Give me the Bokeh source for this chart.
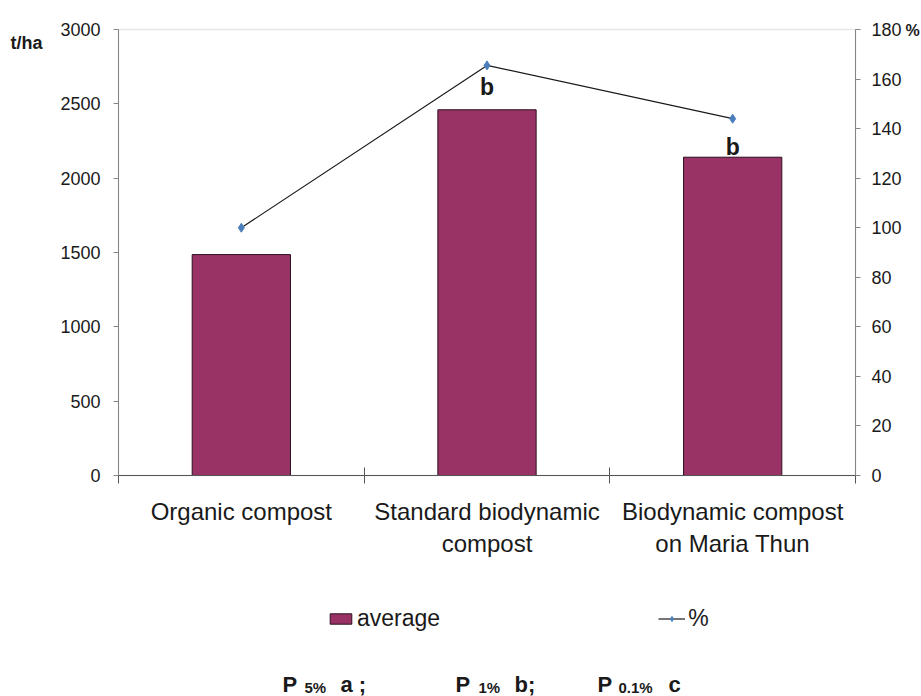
from bokeh.plotting import figure
from bokeh.models import (Range1d, LinearAxis, FixedTicker, Legend, LegendItem,
                          Label, ColumnDataSource, BoxAnnotation)
from bokeh.core.properties import value
from bokeh.embed import file_html
from bokeh.resources import INLINE

# ---------------- data ----------------
categories = ["Organic compost",
              "Standard biodynamic\ncompost",
              "Biodynamic compost\non Maria Thun"]
average = [1486, 2460, 2141]          # t/ha (left axis)
percent = [100, 165.5, 144]           # % (right axis)
sig_letters = ["", "b", "b"]
left_ticks = [0, 500, 1000, 1500, 2000, 2500, 3000]
right_ticks = [0, 20, 40, 60, 80, 100, 120, 140, 160, 180]
left_max, right_max = 3000, 180

# ---------------- style / layout ----------------
FONT = "Liberation Sans"
TXT = "#1a1a1a"
BAR = "#993366"
MARK = "#4a7ebb"
W, H = 921, 696
FL, FR, FT, FB = 118, 855, 29, 475      # plot-area edges in canvas pixels

n = len(categories)
xc = [i + 0.5 for i in range(n)]

def span(lo_px, hi_px, vmax, total):
    # data range for a frame that covers the whole canvas
    per = vmax / (hi_px - lo_px)
    return -lo_px * per, vmax + (total - hi_px) * per

x0, x1 = span(FL, FR, n, W)
y0, y1 = span(H - FB, H - FT, left_max, H)
r0, r1 = span(H - FB, H - FT, right_max, H)

p = figure(width=W, height=H, output_backend="svg", toolbar_location=None,
           x_range=Range1d(x0, x1), y_range=Range1d(y0, y1),
           min_border=0)
p.extra_y_ranges = {"pct": Range1d(r0, r1)}
p.xgrid.visible = False
p.ygrid.visible = False
p.outline_line_color = None
p.background_fill_color = "white"
p.border_fill_color = "white"

# plot-area border
p.add_layout(BoxAnnotation(left=0, right=n, bottom=0, top=left_max,
                           fill_alpha=0, line_color="#b0b0b0", line_width=1.5,
                           level="underlay"))

bars = p.vbar(x=xc, top=average, width=0.4, fill_color=BAR,
              line_color="#2b0f1f", line_width=1)
line = p.line(xc, percent, y_range_name="pct", line_color=TXT, line_width=1.2)
pts = p.scatter(xc, percent, y_range_name="pct", marker="diamond", size=9,
                fill_color=MARK, line_color=MARK)

# significance letters above bars
sig_offsets = [0, -23, -10]
src = ColumnDataSource(dict(x=xc, y=average, t=sig_letters, dy=sig_offsets))
p.text(x="x", y="y", text="t", y_offset="dy", source=src,
       text_align="center", text_baseline="alphabetic",
       text_font=value(FONT), text_font_style="bold",
       text_font_size="23px", text_color=TXT)

# left axis
ya = p.yaxis[0]
ya.fixed_location = 0
ya.bounds = (0, left_max)
ya.ticker = FixedTicker(ticks=left_ticks)
ya.axis_line_color = "#868686"
ya.major_tick_line_color = "#868686"
ya.major_tick_in = 0
ya.major_tick_out = 5
ya.minor_tick_line_color = None
ya.major_label_standoff = 13
ya.major_label_text_font = FONT
ya.major_label_text_font_size = "18px"
ya.major_label_text_color = TXT

# right axis
ra = LinearAxis(y_range_name="pct", ticker=FixedTicker(ticks=right_ticks),
                fixed_location=n, bounds=(0, right_max))
ra.axis_line_color = "#868686"
ra.major_tick_line_color = "#868686"
ra.major_tick_in = 0
ra.major_tick_out = 5
ra.minor_tick_line_color = None
ra.major_label_standoff = 11
ra.major_label_text_font = FONT
ra.major_label_text_font_size = "18px"
ra.major_label_text_color = TXT
p.add_layout(ra, "right")

# bottom axis
xa = p.xaxis[0]
xa.fixed_location = 0
xa.bounds = (0, n)
xa.ticker = FixedTicker(ticks=xc, minor_ticks=list(range(n + 1)))
xa.major_label_overrides = {x: c for x, c in zip(xc, categories)}
xa.axis_line_color = "#555555"
xa.major_tick_line_color = None
xa.major_tick_in = 0
xa.major_tick_out = 0
xa.minor_tick_line_color = "#555555"
xa.minor_tick_in = 8
xa.minor_tick_out = 8
xa.major_label_standoff = 14
xa.major_label_text_font = FONT
xa.major_label_text_font_size = "24px"
xa.major_label_text_color = TXT

# legend
legend = Legend(items=[LegendItem(label="average", renderers=[bars]),
                       LegendItem(label="%", renderers=[line, pts])],
                orientation="horizontal", location=(327, H - 632),
                spacing=218, glyph_width=27, glyph_height=13, label_standoff=3,
                padding=0, margin=0, border_line_alpha=0,
                background_fill_alpha=0,
                label_text_font=FONT, label_text_font_size="23px",
                label_text_color=TXT)
p.add_layout(legend)

def add_text(text, px, py, size):
    # px: left edge, py: baseline, both from the canvas top-left
    p.add_layout(Label(x=px, y=H - py, x_units="screen", y_units="screen", text=text,
                       text_font=FONT, text_font_style="bold",
                       text_font_size=size, text_color=TXT,
                       text_baseline="alphabetic"))

# unit labels
add_text("t/ha", 10, 42, "18px")
add_text("%", 905, 30, "16px")

# significance footnote
foot = [("P", 282, 684, "22px"), ("5%", 304, 687, "15px"), ("a ;", 340, 684, "22px"),
        ("P", 455, 684, "22px"), ("1%", 478, 687, "15px"), ("b;", 514, 684, "22px"),
        ("P", 597, 684, "22px"), ("0.1%", 618, 687, "15px"), ("c", 668, 684, "22px")]
for t, x, y, fs in foot:
    add_text(t, x, y, fs)

open("out.html", "w").write(file_html(p, INLINE))
